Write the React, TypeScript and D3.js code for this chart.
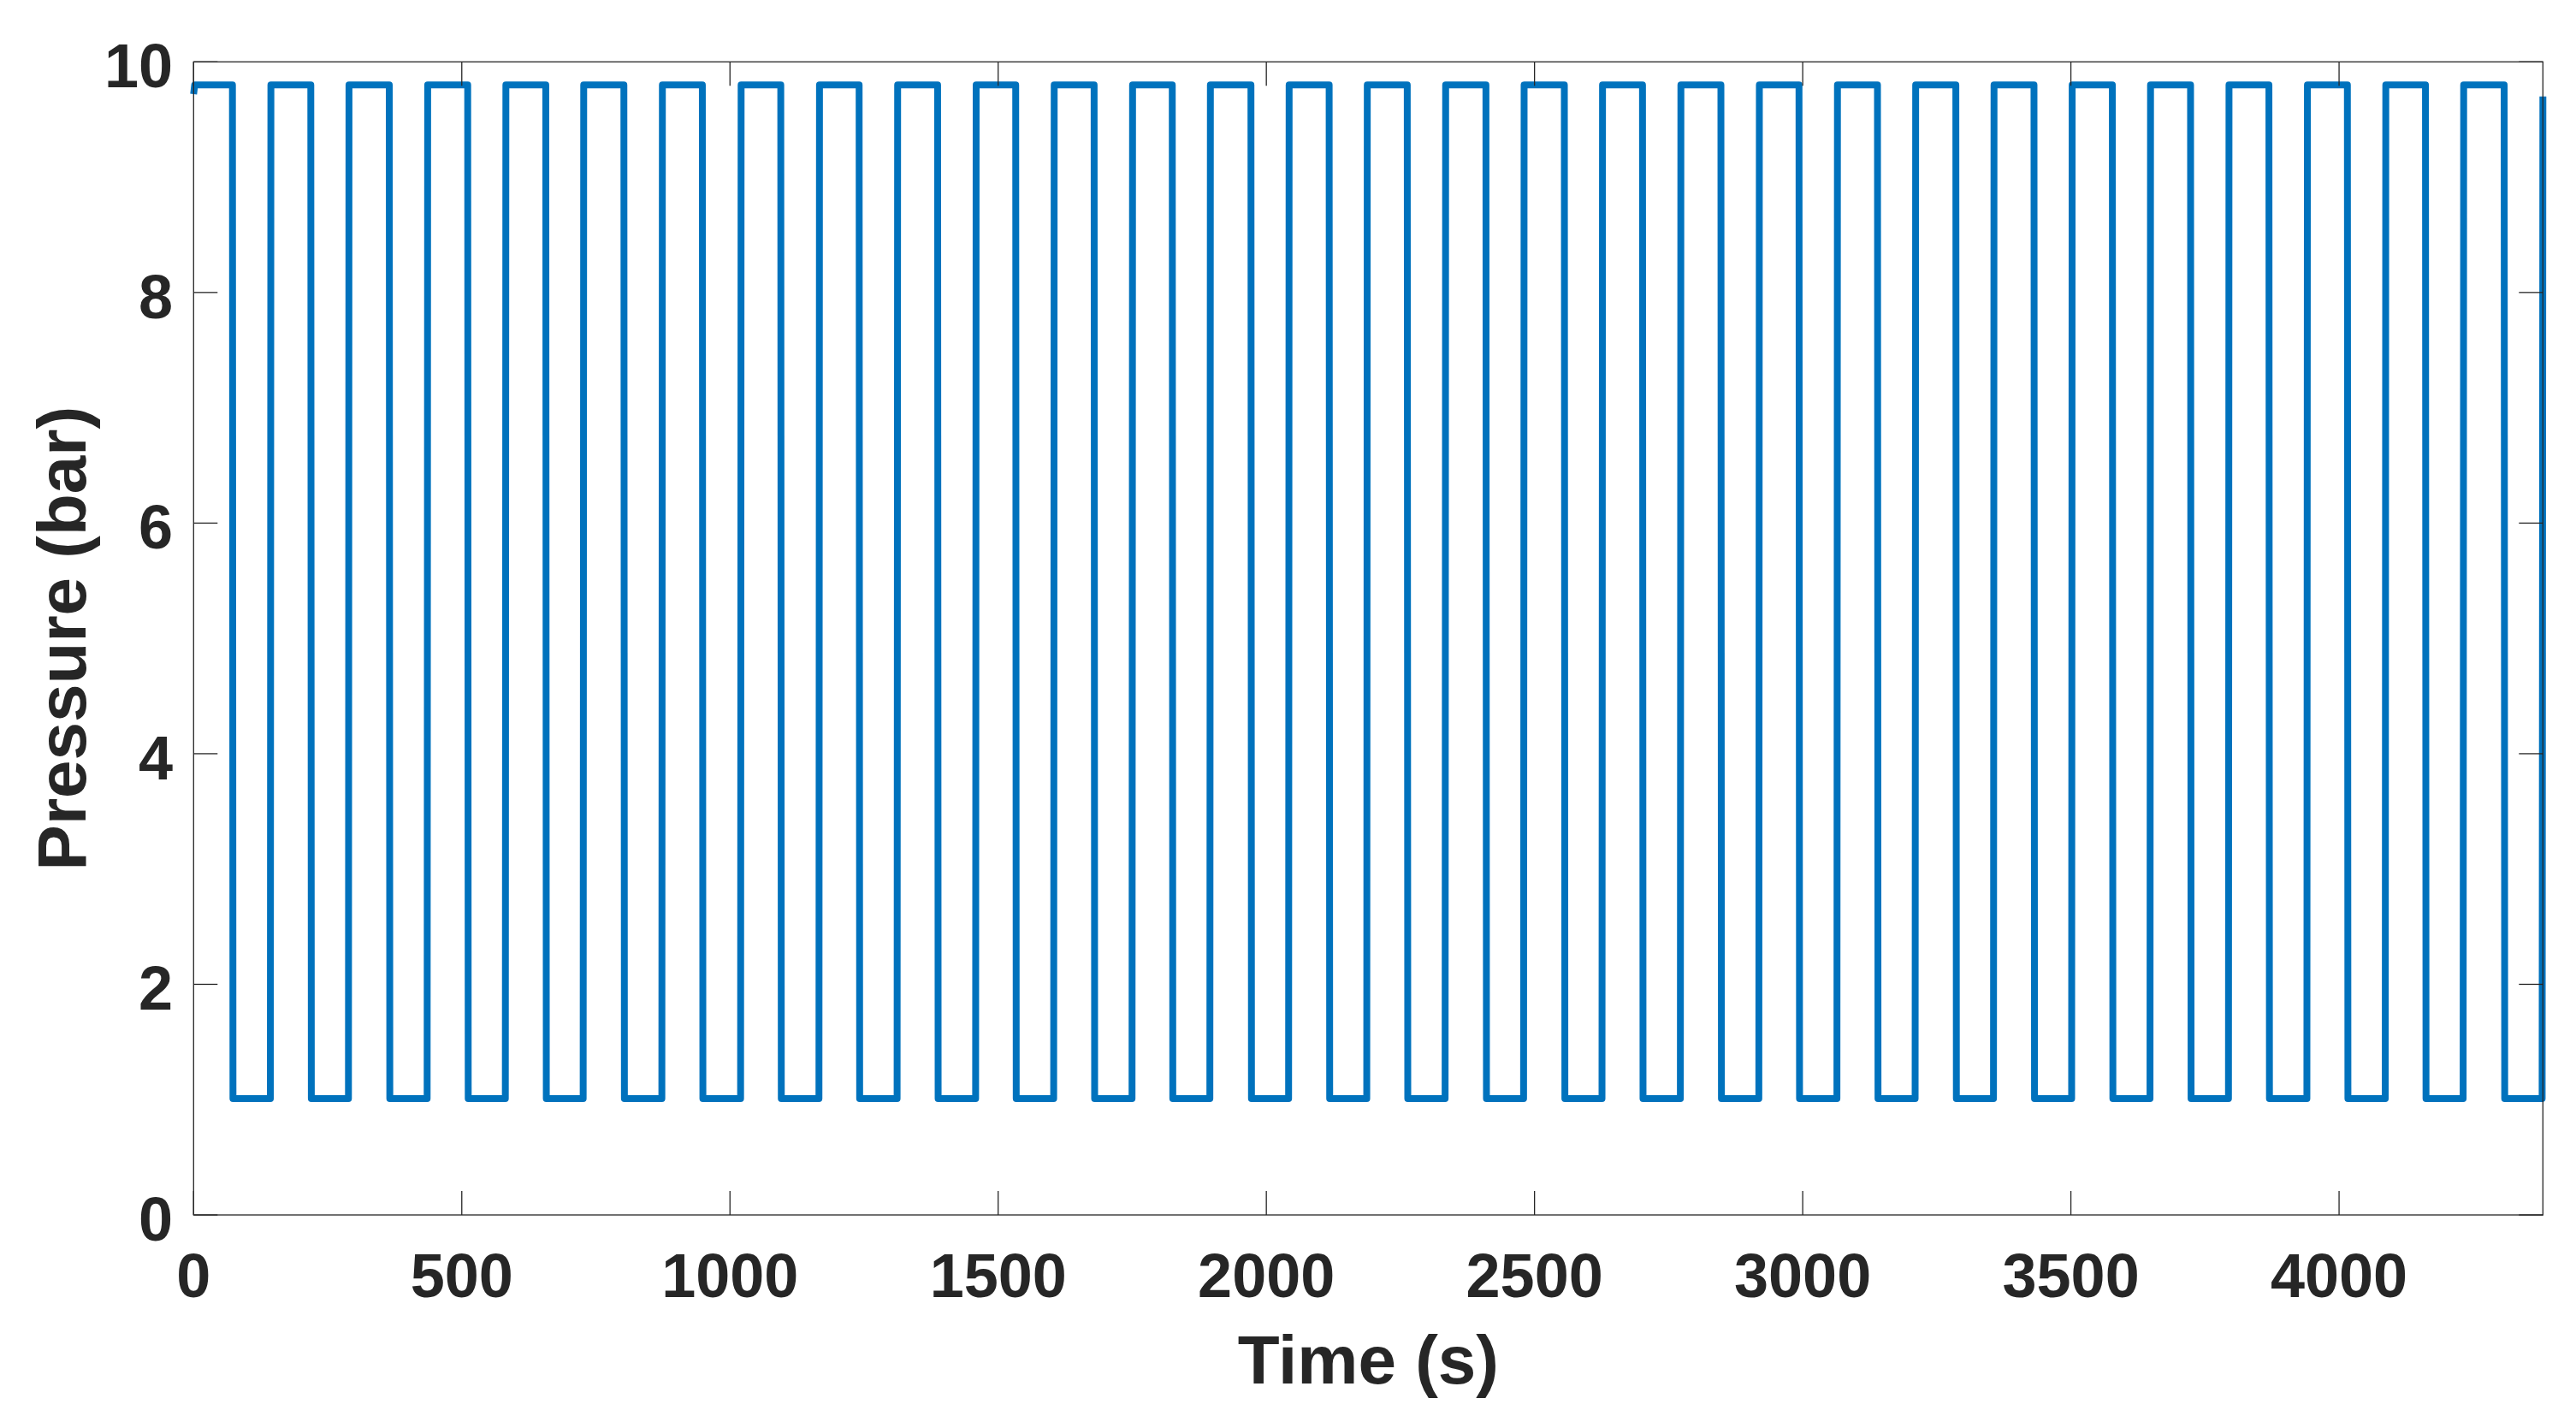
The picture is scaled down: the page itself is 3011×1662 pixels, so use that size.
import React from "react";
import * as d3 from "d3";

// ---- Data ----
const fallTimes = [72.4, 218.5, 364.8, 511.0, 656.6, 802.2, 948.5, 1094.7, 1240.8, 1387.1, 1532.7, 1678.9, 1824.6, 1971.3, 2117.1, 2262.7, 2409.4, 2555.6, 2701.3, 2847.5, 2993.1, 3139.4, 3285.5, 3431.2, 3577.3, 3723.1, 3869.2, 4015.5, 4161.1, 4307.8];
const riseTimes = [143.1, 288.7, 435.4, 581.2, 726.3, 873.0, 1019.8, 1165.9, 1311.6, 1458.0, 1603.5, 1749.6, 1894.7, 2041.5, 2187.2, 2333.3, 2479.6, 2625.8, 2771.9, 2918.2, 3063.8, 3209.6, 3355.7, 3501.4, 3647.5, 3793.8, 3940.0, 4086.1, 4231.3, 4378.6];
const highLevel = 9.8;
const lowLevel = 1.01;
const startValue = 9.72;
const endTime = 4380;
const endValue = 9.7;

const xTicks = [0, 500, 1000, 1500, 2000, 2500, 3000, 3500, 4000];
const yTicks = [0, 2, 4, 6, 8, 10];
const xLabel = "Time (s)";
const yLabel = "Pressure (bar)";

const W = 3011;
const H = 1662;
const M = { left: 226.3, right: 2972.3, top: 72.3, bottom: 1420 };
const FONT = "'Liberation Sans', Arial, Helvetica, sans-serif";
const AX = "#262626";

export default function App() {
  const x = d3.scaleLinear().domain([0, endTime]).range([M.left, M.right]);
  const y = d3.scaleLinear().domain([0, 10]).range([M.bottom, M.top]);

  const pts: [number, number][] = [[0, startValue], [2, highLevel]];
  fallTimes.forEach((f, i) => {
    pts.push([f, highLevel]);
    pts.push([f + 1, lowLevel]);
    const r = riseTimes[i];
    if (i < riseTimes.length - 1) {
      pts.push([r, lowLevel]);
      pts.push([r + 1, highLevel]);
    } else {
      pts.push([r, lowLevel]);
      pts.push([endTime, endValue]);
    }
  });

  const line = d3
    .line<[number, number]>()
    .x((d) => x(d[0]))
    .y((d) => y(d[1]));

  const tickLen = 28;

  return (
    <svg
      width={W}
      height={H}
      style={{ position: "fixed", left: 0, top: 0, background: "#fff" }}
    >
      <rect x={0} y={0} width={W} height={H} fill="#fff" />
      {/* data line */}
      <path
        d={line(pts) || ""}
        fill="none"
        stroke="#0072BD"
        strokeWidth={8}
        strokeLinejoin="round"
        strokeLinecap="butt"
      />
      {/* axes box */}
      <rect
        x={M.left}
        y={M.top}
        width={M.right - M.left}
        height={M.bottom - M.top}
        fill="none"
        stroke={AX}
        strokeWidth={1.3}
      />
      {/* x ticks */}
      {xTicks.map((t) => (
        <g key={"x" + t}>
          <line x1={x(t)} x2={x(t)} y1={M.bottom} y2={M.bottom - tickLen} stroke={AX} strokeWidth={1.3} />
          <line x1={x(t)} x2={x(t)} y1={M.top} y2={M.top + tickLen} stroke={AX} strokeWidth={1.3} />
          <text
            x={x(t)}
            y={1516}
            textAnchor="middle"
            fontFamily={FONT}
            fontWeight="bold"
            fontSize={72}
            fill={AX}
          >
            {t}
          </text>
        </g>
      ))}
      {/* y ticks */}
      {yTicks.map((t) => (
        <g key={"y" + t}>
          <line x1={M.left} x2={M.left + tickLen} y1={y(t)} y2={y(t)} stroke={AX} strokeWidth={1.3} />
          <line x1={M.right} x2={M.right - tickLen} y1={y(t)} y2={y(t)} stroke={AX} strokeWidth={1.3} />
          <text
            x={202}
            y={y(t) + 30}
            textAnchor="end"
            fontFamily={FONT}
            fontWeight="bold"
            fontSize={72}
            fill={AX}
          >
            {t}
          </text>
        </g>
      ))}
      {/* axis labels */}
      <text
        x={(M.left + M.right) / 2}
        y={1617}
        textAnchor="middle"
        fontFamily={FONT}
        fontWeight="bold"
        fontSize={80}
        fill={AX}
      >
        {xLabel}
      </text>
      <text
        transform={`translate(100, ${(M.top + M.bottom) / 2}) rotate(-90)`}
        textAnchor="middle"
        fontFamily={FONT}
        fontWeight="bold"
        fontSize={80}
        fill={AX}
      >
        {yLabel}
      </text>
    </svg>
  );
}
